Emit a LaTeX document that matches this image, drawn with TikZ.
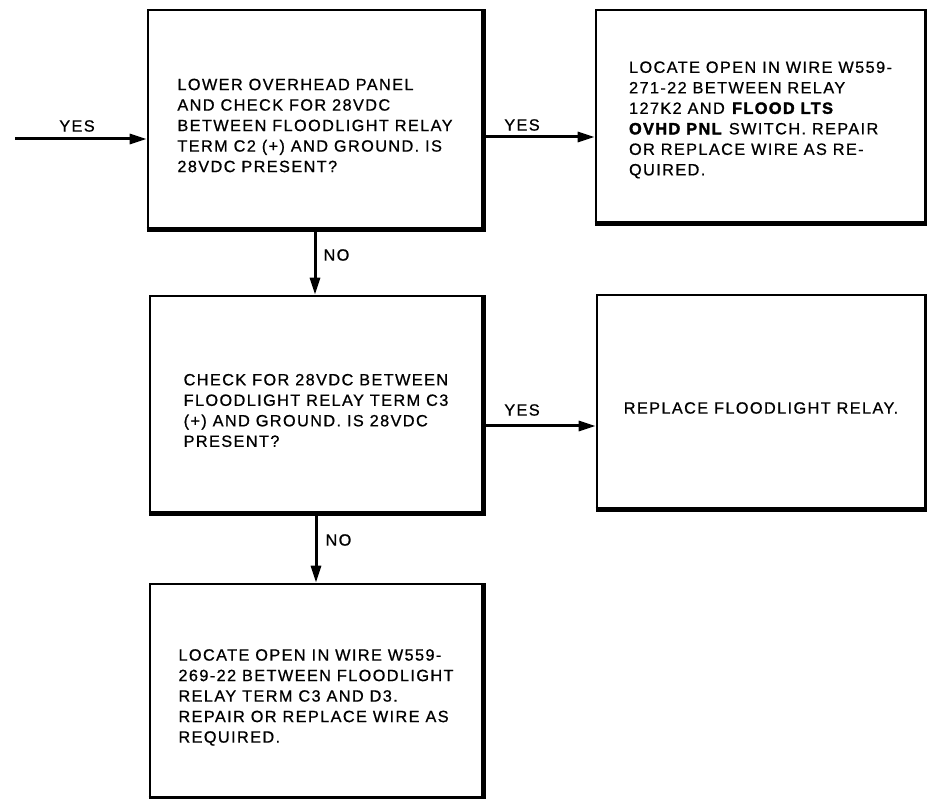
\documentclass[tikz,border=0pt]{standalone}
\usepackage{fontspec}
\setmainfont{Liberation Sans}[LetterSpace=8.5, FakeBold=0.8,
  BoldFeatures={FakeBold=2.2}]
\usetikzlibrary{arrows.meta}
% box text, left aligned and set a little below the box centre
\newcommand{\chkbody}[2][16pt]{\raisebox{0pt}[\dimexpr\height+#1\relax][\depth]{\begin{tabular}{@{}l@{}}#2\end{tabular}}}

\begin{document}
\begin{tikzpicture}[x=1pt, y=-1pt, line cap=butt,
  every node/.style={font=\fontsize{16.3}{20.5}\selectfont},
  chk/.style={draw, line width=2.6pt, inner sep=0pt,
    minimum width=332pt, minimum height=214pt},
  rim/.style={line width=5.5pt, line join=miter},
  flow/.style={line width=3pt, -{Triangle[length=17pt,width=10pt]}}]
\useasboundingbox (0,0) rectangle (927,799);

% ---------- the check boxes ----------
\node[chk, minimum width=334pt, minimum height=218pt] (q1) at (315,119)
  {\chkbody{LOWER OVERHEAD PANEL\\AND CHECK FOR 28VDC\\BETWEEN FLOODLIGHT RELAY\\TERM C2 (+) AND GROUND. IS\\28VDC PRESENT?}};
\node[chk, minimum width=329pt, minimum height=212pt] (q2) at (760.5,116)
  {\chkbody[8pt]{LOCATE OPEN IN WIRE W559-\\271-22 BETWEEN RELAY\\127K2 AND \textbf{FLOOD LTS}\\\textbf{OVHD PNL} SWITCH. REPAIR\\OR REPLACE WIRE AS RE-\\QUIRED.}};
\node[chk, minimum height=216pt] (q3) at (316,404)
  {\chkbody{CHECK FOR 28VDC BETWEEN\\FLOODLIGHT RELAY TERM C3\\(+) AND GROUND. IS 28VDC\\PRESENT?}};
\node[chk, minimum width=328pt, minimum height=213pt] (q4) at (761,401.5)
  {\chkbody{REPLACE FLOODLIGHT RELAY.}};
\node[chk, minimum height=213pt] (q5) at (316,690.5)
  {\chkbody[14pt]{LOCATE OPEN IN WIRE W559-\\269-22 BETWEEN FLOODLIGHT\\RELAY TERM C3 AND D3.\\REPAIR OR REPLACE WIRE AS\\REQUIRED.}};
% heavy right and bottom edges
\foreach \q in {q1,q2,q3,q4,q5}
  \draw[rim] (\q.south west) -- (\q.south east) -- (\q.north east);

% ---------- the branches ----------
\coordinate (src) at (15,139);
\draw[flow] (src) -- (src -| q1.west);
\node (yes0) at (77,126) {YES};
\draw[flow] (q1.east |- 0,137) -- (q2.west |- 0,137);
\node (yes1) at (522,125) {YES};
\draw[flow] (q1.south) -- (q1.south |- q3.north);
\node[anchor=west] (no1) at (320,255) {NO};
\draw[flow] (q3.east |- 0,426) -- (q4.west |- 0,426);
\node (yes2) at (522,410) {YES};
\draw[flow] (q3.south) -- (q3.south |- q5.north);
\node[anchor=west] (no2) at (322,540) {NO};

\end{tikzpicture}
\end{document}
